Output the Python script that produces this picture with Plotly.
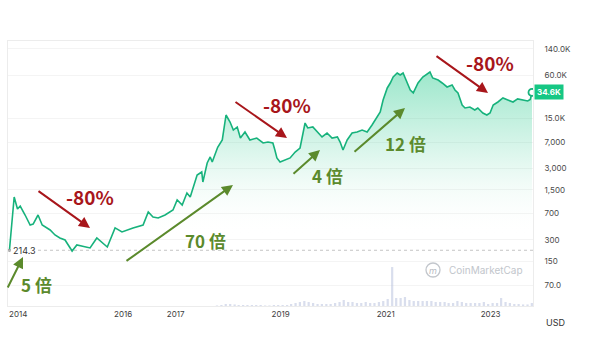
import math
import plotly.graph_objects as go
import pandas as pd

# ---------------- data ----------------
dates = ["2013-11-01","2013-12-04","2013-12-27","2014-01-15","2014-02-18","2014-03-25","2014-04-15","2014-05-19",
         "2014-06-17","2014-08-11","2014-09-14","2014-10-18","2014-11-23","2015-01-11","2015-02-13","2015-04-11",
         "2015-05-16","2015-07-02","2015-09-13","2015-11-06","2015-12-24","2016-03-10","2016-05-19","2016-06-24",
         "2016-07-27","2016-09-01","2016-10-19","2016-12-13","2017-01-11","2017-02-15","2017-03-20","2017-04-12",
         "2017-05-30","2017-07-01","2017-07-09","2017-08-08","2017-08-29","2017-09-12","2017-10-20","2017-11-21",
         "2017-12-17","2018-01-14","2018-02-06","2018-03-05","2018-03-27","2018-04-28","2018-06-01","2018-07-19",
         "2018-09-01","2018-10-05","2018-11-08","2018-11-22","2018-12-06","2018-12-28","2019-02-01","2019-03-08",
         "2019-04-12","2019-05-16","2019-06-20","2019-07-09","2019-08-13","2019-09-17","2019-10-16","2019-11-20",
         "2019-12-25","2020-01-31","2020-02-19","2020-03-10","2020-04-08","2020-05-12","2020-06-16","2020-07-21",
         "2020-08-25","2020-09-28","2020-11-02","2020-11-24","2020-12-14","2021-01-12","2021-02-02","2021-02-22",
         "2021-03-22","2021-04-12","2021-05-02","2021-05-30","2021-06-21","2021-07-12","2021-08-14","2021-09-16",
         "2021-11-05","2021-11-24","2022-01-01","2022-01-29","2022-03-04","2022-04-08","2022-04-28","2022-05-19",
         "2022-06-17","2022-07-07","2022-08-10","2022-09-13","2022-10-04","2022-11-08","2022-12-06","2022-12-28",
         "2023-01-19","2023-02-21","2023-03-28","2023-05-01","2023-06-06","2023-07-08","2023-08-14","2023-09-16",
         "2023-10-04","2023-10-16"]
prices = [214.3,1191,809,891,667,483,499,667,483,412,351,318,298,209,254,238,231,318,238,440,386,440,483,735,
          625,605,667,783,1081,920,1355,1191,2421,2667,1932,3565,4325,3680,5900,7470,16700,13340,10300,11350,
          7960,9660,7470,7960,6780,7000,6780,5410,4190,3680,3930,4190,5070,5770,12900,11000,11350,9660,8230,
          9350,7960,8230,7000,5410,7470,9350,9660,10300,9660,12100,15670,18400,27100,39900,46800,56800,64600,
          60600,64600,46800,37400,34000,46800,56800,66700,55000,51500,46800,41200,44000,37400,34000,23070,
          20940,21600,19630,20940,17800,16700,17800,23070,25400,28900,27100,25400,28000,27100,26200,27500,34600]

vol_start = "2017-10-01"
volumes_b = [5,9,18,
             18,14,9,9,9,9,9,9,5,5,9,9,
             9,9,18,27,36,45,36,27,18,18,18,18,
             27,36,54,36,36,27,27,36,27,27,36,45,
             63,350,72,72,81,54,45,45,45,45,45,36,
             36,36,27,27,45,36,27,27,27,27,36,18,
             27,27,72,36,27,18,18,14,14,27]
vol_dates = pd.date_range(vol_start, periods=len(volumes_b), freq="MS") + pd.Timedelta(days=14)

y_tickvals = [140000, 60000, 15000, 7000, 3000, 1500, 700, 300, 150, 70]
y_ticktext = ["140.0K", "60.0K", "15.0K", "7,000", "3,000", "1,500", "700", "300", "150", "70.0"]
x_tickvals = ["2014-01-01", "2016-01-01", "2017-01-01", "2019-01-01", "2021-01-01", "2023-01-01"]
x_ticktext = ["2014", "2016", "2017", "2019", "2021", "2023"]

start_label = "214.3"
last_label = "34.6K"

# ---------------- layout constants ----------------
W, H = 600, 338
ML, MR, MT, MB = 8, 67, 41, 32
PW, PH = W - ML - MR, H - MT - MB


def px(x, y):
    return (x - ML) / PW, (H - MB - y) / PH


GREEN = "#17b27c"
RED = "#a8161b"
OLIVE = "#5b8a2c"
CJK = "Noto Sans CJK SC"

fig = go.Figure()

# volume (bottom layer)
fig.add_trace(go.Bar(x=vol_dates, y=volumes_b, marker_color="rgba(180,190,220,0.5)",
                     marker_line_width=0, yaxis="y", xaxis="x", showlegend=False, hoverinfo="skip"))

# baseline for fill
fig.add_trace(go.Scatter(x=[dates[0], dates[-1]], y=[36, 36], mode="lines",
                         line=dict(width=0, color="rgba(0,0,0,0)"), yaxis="y2",
                         showlegend=False, hoverinfo="skip"))
# price
fig.add_trace(go.Scatter(x=dates, y=prices, mode="lines", yaxis="y2",
                         line=dict(color=GREEN, width=1.6),
                         fill="tonexty",
                         fillgradient=dict(type="vertical",
                                           colorscale=[[0, "rgba(255,255,255,0)"],
                                                       [0.3, "rgba(255,255,255,0)"],
                                                       [0.6, "rgba(40,200,140,0.12)"],
                                                       [1, "rgba(22,199,132,0.42)"]]),
                         showlegend=False))
# end marker
fig.add_trace(go.Scatter(x=[dates[-1]], y=[prices[-1]], mode="markers", yaxis="y2",
                         marker=dict(size=7, color="white", line=dict(color=GREEN, width=1.8)),
                         showlegend=False))
# start dot
fig.add_trace(go.Scatter(x=[dates[0]], y=[prices[0]], mode="markers", yaxis="y2",
                         marker=dict(size=3, color="#888"), showlegend=False, cliponaxis=False))

fig.update_layout(
    width=W, height=H,
    margin=dict(l=ML, r=MR, t=MT, b=MB),
    paper_bgcolor="white", plot_bgcolor="white",
    bargap=0.45,
    xaxis=dict(type="date", range=["2013-10-22", "2023-10-23"],
               tickvals=x_tickvals, ticktext=x_ticktext, ticks="",
               tickfont=dict(family="Inter", size=8, color="#3d3d3d"),
               showgrid=False, showline=True, linecolor="#ececec", linewidth=1,
               mirror=True, zeroline=False),
    yaxis=dict(range=[0, 2380], visible=False, fixedrange=True),
    yaxis2=dict(type="log", overlaying="y", side="right",
                range=[1.5514, 5.2577],
                tickvals=y_tickvals, ticktext=y_ticktext, ticks="",
                ticklabelstandoff=9,
                tickfont=dict(family="Inter", size=8, color="#4a4a4a"),
                showgrid=True, gridcolor="#f4f4f4", gridwidth=1,
                showline=True, linecolor="#ececec", mirror=True, zeroline=False),
)

# dotted start-price line
fig.add_shape(type="line", xref="paper", x0=0, x1=1, yref="y2", y0=prices[0], y1=prices[0],
              line=dict(color="#c4c4c4", width=1, dash="dot"))

ann = []
# start label (annotation y on log axis is given as log10)
ann.append(dict(x=dates[0], y=math.log10(prices[0]), xref="x", yref="y2", text=start_label, showarrow=False,
                xanchor="left", yanchor="middle", xshift=3, bgcolor="white", borderpad=0,
                font=dict(family="Inter", size=9, color="#333")))
# last price label
ann.append(dict(x=px(534, 0)[0], y=math.log10(prices[-1]), xref="paper", yref="y2",
                text="<b>" + last_label + "</b>",
                showarrow=False, xanchor="left", yanchor="middle", bgcolor="#16c784", borderpad=2,
                font=dict(family="Inter", size=8, color="white")))
# USD
ux, uy = px(555, 322)
ann.append(dict(x=ux, y=uy, xref="paper", yref="paper", text="USD", showarrow=False,
                xanchor="center", yanchor="middle",
                font=dict(family="Inter", size=9, color="#333")))
# watermark
wx, wy = px(486, 270)
ann.append(dict(x=wx, y=wy, xref="paper", yref="paper", text="CoinMarketCap", showarrow=False,
                xanchor="center", yanchor="middle",
                font=dict(family="Inter", size=10, color="#c2c6cc")))
lx, ly = px(433, 270)
fig.add_shape(type="circle", xref="paper", yref="paper", xsizemode="pixel", ysizemode="pixel",
              xanchor=lx, yanchor=ly, x0=-7, x1=7, y0=-7, y1=7,
              line=dict(color="#c2c6cc", width=1.3))
ann.append(dict(x=lx, y=ly, xref="paper", yref="paper", text="<i>m</i>", showarrow=False,
                xanchor="center", yanchor="middle",
                font=dict(family="Inter", size=9, color="#b8bcc2")))

# arrows: (tail, head, color)
arrows = [((37, 190), (90, 228), RED), ((234, 101), (287, 138), RED), ((435, 55), (488, 93), RED),
          ((7, 289), (23, 257), OLIVE), ((125, 262), (233, 185), OLIVE),
          ((292, 175), (320, 150), OLIVE), ((353, 153), (405, 108), OLIVE)]
for (tx, ty), (hx, hy), c in arrows:
    x, y = px(hx, hy)
    ann.append(dict(x=x, y=y, xref="paper", yref="paper", ax=tx - hx, ay=ty - hy, text="",
                    showarrow=True, arrowhead=2, arrowsize=1.1, arrowwidth=2, arrowcolor=c))

labels = [("-80%", 90, 196, RED), ("-80%", 287, 105, RED), ("-80%", 490, 62, RED),
          ("5 倍", 36, 284, OLIVE), ("70 倍", 205, 240, OLIVE), ("4 倍", 327, 175, OLIVE),
          ("12 倍", 405, 143, OLIVE)]
for t, cx, cy, c in labels:
    x, y = px(cx, cy)
    size = 19 if c == RED else 17
    ann.append(dict(x=x, y=y, xref="paper", yref="paper", text="<b>" + t + "</b>", showarrow=False,
                    xanchor="center", yanchor="middle",
                    font=dict(family=CJK, size=size, color=c)))

fig.update_layout(annotations=ann)
fig.write_html("out.html")
